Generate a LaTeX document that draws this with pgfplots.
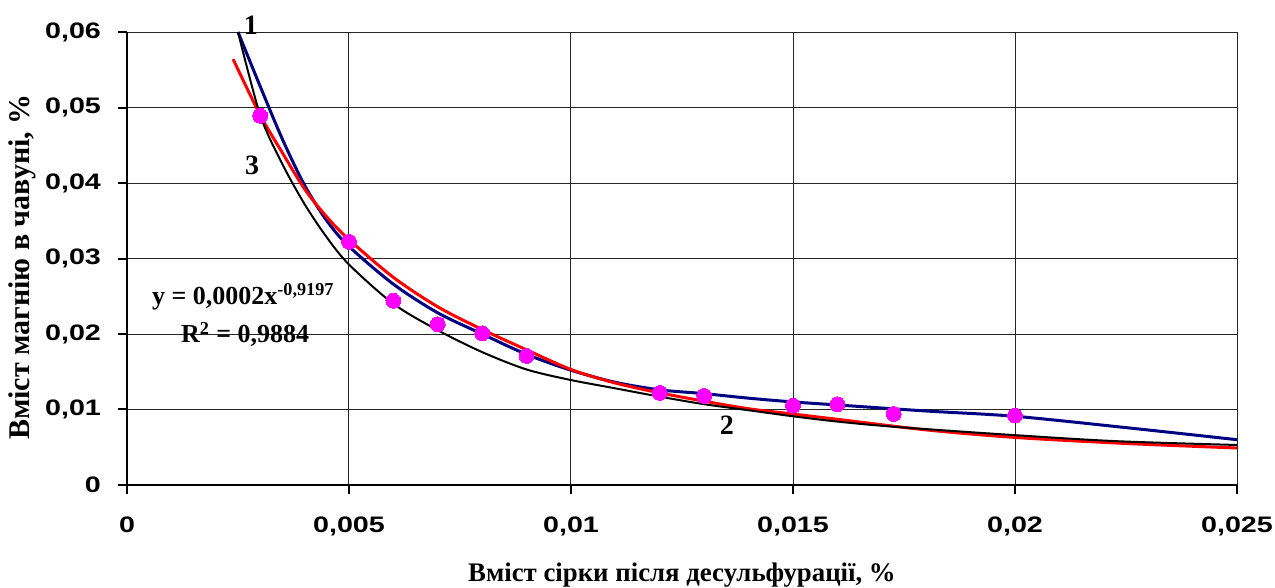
\documentclass[border=0pt]{standalone}
\usepackage{fontspec}
\setmainfont{Liberation Serif}
\setsansfont{Liberation Sans}
\newfontfamily\tickfont{Liberation Sans}[FakeStretch=1.28]
\usepackage{pgfplots}
\pgfplotsset{compat=1.18}
\definecolor{navyb}{RGB}{0,0,128}
\definecolor{mag}{RGB}{255,0,255}

\begin{document}
\begin{tikzpicture}
\begin{axis}[
  scale only axis, width=555pt, height=226.5pt,
  xmin=0, xmax=0.025, ymin=0, ymax=0.06,
  axis x line*=bottom, axis y line*=left,
  axis line style={line width=1.3pt},
  xtick={0,0.005,0.01,0.015,0.02,0.025},
  xticklabels={0,{0,005},{0,01},{0,015},{0,02},{0,025}},
  ytick={0,0.01,0.02,0.03,0.04,0.05,0.06},
  yticklabels={0,{0,01},{0,02},{0,03},{0,04},{0,05},{0,06}},
  scaled ticks=false,
  tick align=outside, major tick length=4.5pt,
  tick style={line width=1pt, black},
  grid=major, grid style={black!85, line width=0.5pt},
  ticklabel style={font=\tickfont\bfseries\fontsize{11.2}{13}\selectfont},
  xticklabel style={yshift=-8pt},
  yticklabel style={xshift=-5pt},
  xlabel={Вміст сірки після десульфурації, \%},
  ylabel={Вміст магнію в чавуні, \%},
  xlabel style={font=\bfseries\fontsize{13.4}{15}\selectfont, at={(axis description cs:0.5,-0.199)},anchor=center},
  ylabel style={font=\bfseries\fontsize{15}{17}\selectfont, at={(axis description cs:-0.0946,0.481)},anchor=center},
  clip=false,
]
\coordinate (O) at (rel axis cs:0,0);
% curve 1 (navy)
\addplot[navyb, line width=1.5pt, smooth] coordinates {
(0.0025,0.0600) (0.0030,0.0528) (0.0035,0.0458) (0.0040,0.0397) (0.0045,0.0350)
(0.0050,0.0316) (0.0060,0.0266) (0.0070,0.0228) (0.0080,0.0200) (0.0090,0.0173)
(0.0100,0.0152) (0.0110,0.0136) (0.0120,0.0126) (0.0130,0.0121) (0.0140,0.0115)
(0.0150,0.0110) (0.0160,0.0106) (0.0180,0.0098) (0.0200,0.0091) (0.0225,0.0076)
(0.0250,0.0060)};
% curve 2 (red, fit)
\addplot[red, line width=1.5pt, smooth] coordinates {
(0.00239,0.0564) (0.0030,0.0490) (0.0035,0.0440) (0.0040,0.0392) (0.0045,0.0355)
(0.0050,0.0325) (0.0060,0.0275) (0.0070,0.0236) (0.0080,0.0206) (0.0090,0.0179)
(0.0100,0.0153) (0.0110,0.0135) (0.0120,0.0122) (0.0130,0.0111) (0.0140,0.0101)
(0.0150,0.0094) (0.0160,0.0087) (0.0180,0.0073) (0.0200,0.0063) (0.0225,0.0055)
(0.0250,0.0049)};
% curve 3 (black)
\addplot[black, line width=1pt, smooth] coordinates {
(0.0025,0.0600) (0.0030,0.0490) (0.0035,0.0425) (0.0040,0.0372) (0.0045,0.0328)
(0.0050,0.0292) (0.0060,0.0240) (0.0070,0.0205) (0.0080,0.0176) (0.0090,0.0153)
(0.0100,0.0139) (0.0110,0.0128) (0.0120,0.0117) (0.0130,0.0107) (0.0140,0.0099)
(0.0150,0.0091) (0.0160,0.0084) (0.0173,0.0077) (0.0200,0.0066) (0.0223,0.0058)
(0.0250,0.0053)};
% experimental points
\addplot[mag, only marks, mark=*, mark size=3.7pt, mark options={fill=mag, draw=mag, line width=0pt}] coordinates {
(0.003,0.0489) (0.005,0.0322) (0.006,0.0244) (0.007,0.0213) (0.008,0.0201)
(0.009,0.0171) (0.012,0.0122) (0.013,0.0118) (0.015,0.0105) (0.016,0.0107)
(0.01727,0.0094) (0.020,0.0092)};
\node[font=\bfseries\fontsize{14}{16}\selectfont] at (axis cs:0.00279,0.0609) {1};
\node[font=\bfseries\fontsize{14}{16}\selectfont] at (axis cs:0.00282,0.0424) {3};
\node[font=\bfseries\fontsize{14}{16}\selectfont] at (axis cs:0.01351,0.00795) {2};
\node[anchor=base, font=\bfseries\fontsize{13}{15}\selectfont] at (axis cs:0.00262,0.02397) {y = 0,0002x\textsuperscript{-0,9197}};
\node[anchor=base, font=\bfseries\fontsize{13}{15}\selectfont] at (axis cs:0.00266,0.01881) {R\textsuperscript{2} = 0,9884};
\end{axis}
\pgfresetboundingbox
\path (O) ++(-63.5pt,-51.5pt) rectangle ++(637.5pt,294pt);
\end{tikzpicture}
\end{document}
